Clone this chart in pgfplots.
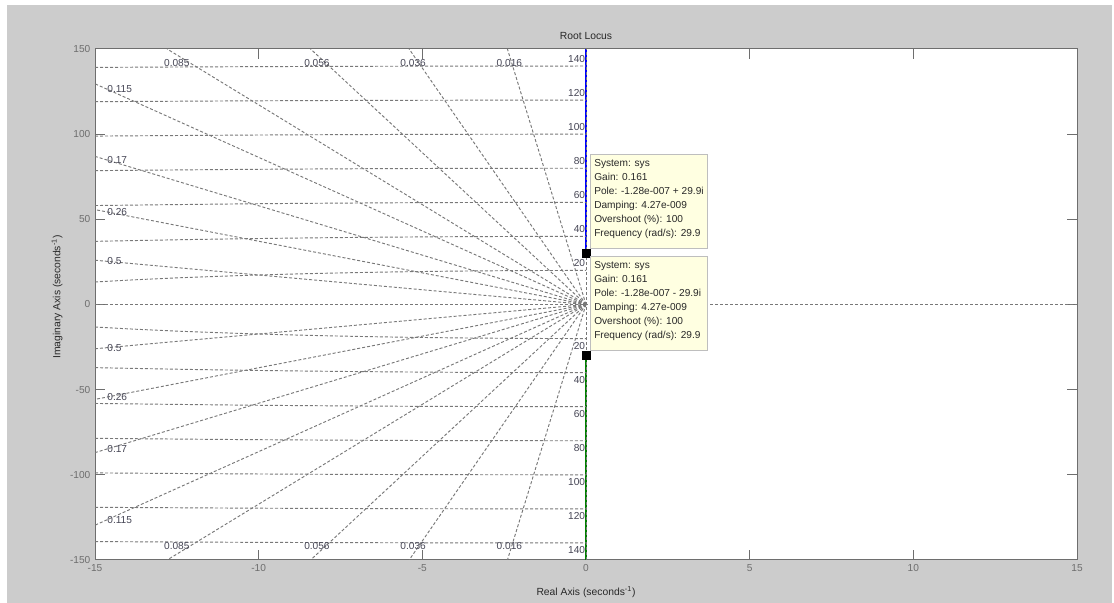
\documentclass[border=0pt]{standalone}
\usepackage{fontspec}
\setmainfont{Liberation Sans}
\usepackage{pgfplots}
\pgfplotsset{compat=1.18}
\definecolor{figgray}{RGB}{204,204,204}
\definecolor{axgray}{RGB}{110,110,110}
\definecolor{gridgray}{RGB}{120,120,120}
\definecolor{lblcol}{RGB}{70,70,85}
\definecolor{tipfill}{RGB}{255,255,225}
\definecolor{tipdraw}{RGB}{190,190,190}
\definecolor{locgreen}{RGB}{0,128,0}
\definecolor{txtdark}{RGB}{40,40,40}
\tikzset{
  sg/.style={gridgray, line width=0.7pt, dash pattern=on 2.25pt off 1.5pt},
  zl/.style={font=\fontsize{7.6}{9.5}\selectfont, text=lblcol, inner sep=0pt},
  fu/.style={zl, anchor=east, yshift=5.25pt, xshift=-0.5pt},
  fd/.style={zl, anchor=east, yshift=-5.5pt, xshift=-0.5pt},
}
\begin{document}
\begin{tikzpicture}[x=0.75pt,y=0.75pt]
\fill[white] (0,0) rectangle (1114,603);
\fill[figgray] (7,0) rectangle (1112,598);
\useasboundingbox (0,0) rectangle (1114,603);
\begin{axis}[
  at={(71.25pt,32.25pt)}, anchor=south west,
  scale only axis, width=736.5pt, height=383.25pt,
  xmin=-15, xmax=15, ymin=-150, ymax=150,
  xtick={-15,-10,...,15}, ytick={-150,-100,...,150},
  axis background/.style={fill=white},
  axis line style={axgray, line width=0.75pt},
  tick style={axgray, line width=0.75pt},
  major tick length=7.5pt,
  tick label style={font=\fontsize{7.6}{9.5}\selectfont, text=axgray},
  /pgf/number format/assume math mode=true,
]
% root locus branches
\addplot[blue, line width=1pt] coordinates {(0,29.9) (0,150)};
\addplot[locgreen, line width=1pt] coordinates {(0,-29.9) (0,-150)};
% damping rays (upper)
\addplot[sg] coordinates {(0,0) (-15,25.981)};
\addplot[sg] coordinates {(0,0) (-15,55.708)};
\addplot[sg] coordinates {(0,0) (-15,86.951)};
\addplot[sg] coordinates {(0,0) (-15,129.57)};
\addplot[sg] coordinates {(0,0) (-12.796,150)};
\addplot[sg] coordinates {(0,0) (-8.413,150)};
\addplot[sg] coordinates {(0,0) (-5.4035,150)};
\addplot[sg] coordinates {(0,0) (-2.4003,150)};
% damping rays (lower)
\addplot[sg] coordinates {(0,0) (-15,-25.981)};
\addplot[sg] coordinates {(0,0) (-15,-55.708)};
\addplot[sg] coordinates {(0,0) (-15,-86.951)};
\addplot[sg] coordinates {(0,0) (-15,-129.57)};
\addplot[sg] coordinates {(0,0) (-12.796,-150)};
\addplot[sg] coordinates {(0,0) (-8.413,-150)};
\addplot[sg] coordinates {(0,0) (-5.4035,-150)};
\addplot[sg] coordinates {(0,0) (-2.4003,-150)};
% natural frequency arcs (upper)
\addplot[sg, smooth] coordinates {(-15,13.229) (-14,14.283) (-13,15.199) (-12,16) (-10,17.321) (-8,18.330) (-6,19.079) (-4,19.596) (-2,19.900) (0,20)};
\addplot[sg, smooth] coordinates {(-15,37.081) (-12,38.158) (-9,38.974) (-6,39.547) (-3,39.887) (0,40)};
\addplot[sg, smooth] coordinates {(-15,58.095) (-10,59.161) (-5,59.791) (0,60)};
\addplot[sg, smooth] coordinates {(-15,78.581) (-10,79.373) (-5,79.844) (0,80)};
\addplot[sg, smooth] coordinates {(-15,98.869) (-10,99.499) (-5,99.875) (0,100)};
\addplot[sg, smooth] coordinates {(-15,119.06) (-10,119.583) (-5,119.896) (0,120)};
\addplot[sg, smooth] coordinates {(-15,139.194) (-10,139.642) (-5,139.911) (0,140)};
% natural frequency arcs (lower)
\addplot[sg, smooth] coordinates {(-15,-13.229) (-14,-14.283) (-13,-15.199) (-12,-16) (-10,-17.321) (-8,-18.330) (-6,-19.079) (-4,-19.596) (-2,-19.900) (0,-20)};
\addplot[sg, smooth] coordinates {(-15,-37.081) (-12,-38.158) (-9,-38.974) (-6,-39.547) (-3,-39.887) (0,-40)};
\addplot[sg, smooth] coordinates {(-15,-58.095) (-10,-59.161) (-5,-59.791) (0,-60)};
\addplot[sg, smooth] coordinates {(-15,-78.581) (-10,-79.373) (-5,-79.844) (0,-80)};
\addplot[sg, smooth] coordinates {(-15,-98.869) (-10,-99.499) (-5,-99.875) (0,-100)};
\addplot[sg, smooth] coordinates {(-15,-119.06) (-10,-119.583) (-5,-119.896) (0,-120)};
\addplot[sg, smooth] coordinates {(-15,-139.194) (-10,-139.642) (-5,-139.911) (0,-140)};
% axes lines of the grid
\addplot[sg] coordinates {(-15,0) (15,0)};
\addplot[sg] coordinates {(0,-150) (0,150)};
% data tip markers
\addplot[only marks, mark=square*, mark size=3pt, black] coordinates {(0,29.9) (0,-29.9)};
% damping labels on left edge
\node[zl, anchor=west] at (axis cs:-14.63,126.4) {0.115};
\node[zl, anchor=west] at (axis cs:-14.63,84.8) {0.17};
\node[zl, anchor=west] at (axis cs:-14.63,54.3) {0.26};
\node[zl, anchor=west] at (axis cs:-14.63,25.3) {0.5};
\node[zl, anchor=west] at (axis cs:-14.63,-126.4) {0.115};
\node[zl, anchor=west] at (axis cs:-14.63,-84.8) {0.17};
\node[zl, anchor=west] at (axis cs:-14.63,-54.3) {0.26};
\node[zl, anchor=west] at (axis cs:-14.63,-25.3) {0.5};
% damping labels top / bottom
\node[zl] at (axis cs:-12.5,142) {0.085};
\node[zl] at (axis cs:-8.22,142) {0.056};
\node[zl] at (axis cs:-5.28,142) {0.036};
\node[zl] at (axis cs:-2.34,142) {0.016};
\node[zl] at (axis cs:-12.5,-142) {0.085};
\node[zl] at (axis cs:-8.22,-142) {0.056};
\node[zl] at (axis cs:-5.28,-142) {0.036};
\node[zl] at (axis cs:-2.34,-142) {0.016};
% frequency labels
\node[fu] at (axis cs:0,20) {20};
\node[fu] at (axis cs:0,40) {40};
\node[fu] at (axis cs:0,60) {60};
\node[fu] at (axis cs:0,80) {80};
\node[fu] at (axis cs:0,100) {100};
\node[fu] at (axis cs:0,120) {120};
\node[fu] at (axis cs:0,140) {140};
\node[fd] at (axis cs:0,-20) {20};
\node[fd] at (axis cs:0,-40) {40};
\node[fd] at (axis cs:0,-60) {60};
\node[fd] at (axis cs:0,-80) {80};
\node[fd] at (axis cs:0,-100) {100};
\node[fd] at (axis cs:0,-120) {120};
\node[fd] at (axis cs:0,-140) {140};
\end{axis}
% title and axis labels
\node[font=\fontsize{7.75}{9.5}\selectfont, text=txtdark] at (586,567) {Root Locus};
\node[font=\fontsize{7.75}{9.5}\selectfont, text=txtdark] at (586,11) {Real Axis (seconds\textsuperscript{-1})};
\node[font=\fontsize{7.75}{9.5}\selectfont, text=txtdark, rotate=90] at (57,306) {Imaginary Axis (seconds\textsuperscript{-1})};
% data tips
\draw[tipdraw, fill=tipfill, line width=0.75pt] (590,448) rectangle (707,354);
\node[anchor=north west, align=left, inner sep=0pt, text=txtdark, font=\fontsize{7.6}{10.5}\selectfont] at (594,444)
  {System: sys\\Gain: 0.161\\Pole: -1.28e-007 + 29.9i\\Damping: 4.27e-009\\Overshoot (\%): 100\\Frequency (rad/s): 29.9};
\draw[tipdraw, fill=tipfill, line width=0.75pt] (590,346) rectangle (707,252);
\node[anchor=north west, align=left, inner sep=0pt, text=txtdark, font=\fontsize{7.6}{10.5}\selectfont] at (594,342)
  {System: sys\\Gain: 0.161\\Pole: -1.28e-007 - 29.9i\\Damping: 4.27e-009\\Overshoot (\%): 100\\Frequency (rad/s): 29.9};
\end{tikzpicture}
\end{document}
